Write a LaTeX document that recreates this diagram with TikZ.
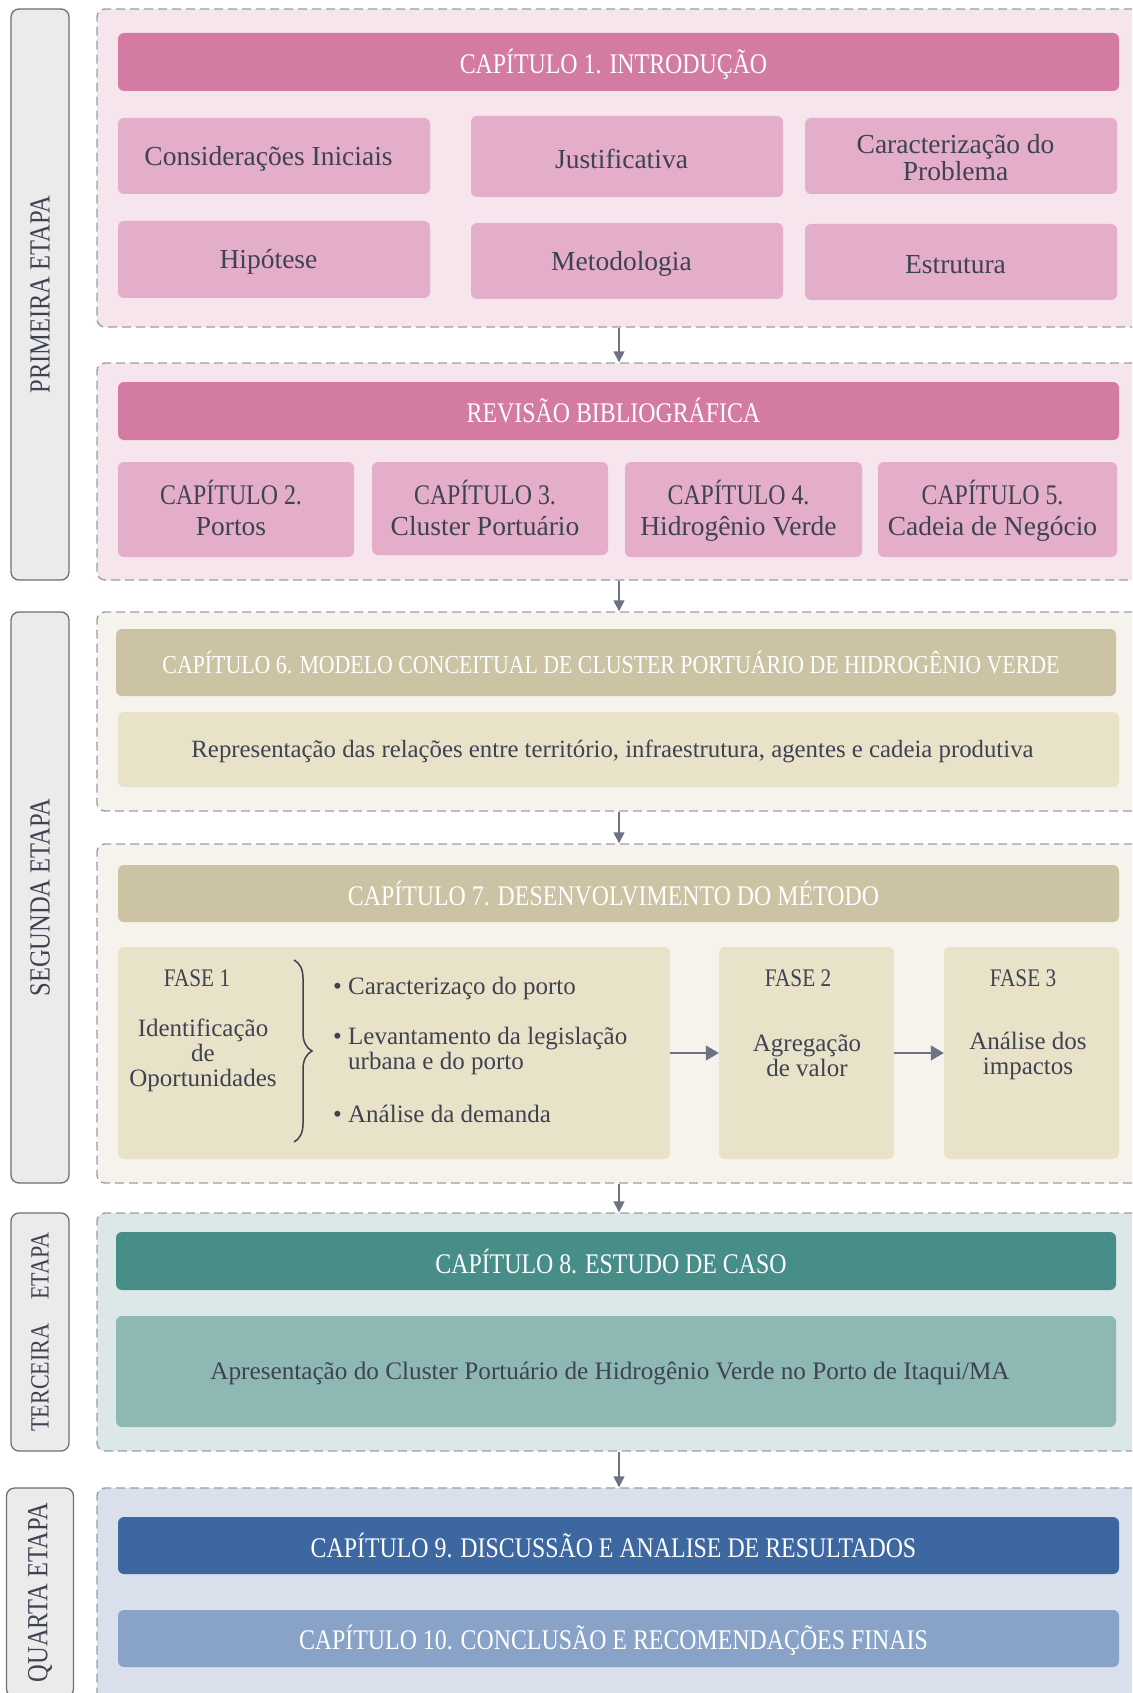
\documentclass[tikz,border=0pt]{standalone}
\usepackage{fontspec}
\setmainfont{Liberation Serif}
\newfontfamily\capsfont{Liberation Serif}[FakeStretch=0.84]
\usetikzlibrary{arrows.meta,decorations.pathreplacing}

\definecolor{txt}{HTML}{3F4250}
\definecolor{dashc}{HTML}{9B9EA6}
\definecolor{arrc}{HTML}{6E7383}
\definecolor{stagef}{HTML}{EBEBEB}
\definecolor{stagec}{HTML}{6F6F6F}
\definecolor{pinkbg}{HTML}{F6E5ED}
\definecolor{pinkh}{HTML}{D47BA4}
\definecolor{pinkc}{HTML}{E4ADC9}
\definecolor{beigebg}{HTML}{F6F3EC}
\definecolor{beigeh}{HTML}{CBC3A4}
\definecolor{beigec}{HTML}{E8E2C9}
\definecolor{tealbg}{HTML}{DCE8E7}
\definecolor{tealh}{HTML}{478D88}
\definecolor{tealc}{HTML}{8EB8B4}
\definecolor{bluebg}{HTML}{D9E0EB}
\definecolor{blueh}{HTML}{3D67A1}
\definecolor{bluec}{HTML}{89A2C8}

\newcommand\fs[2]{\fontsize{#1}{#2}\selectfont}

\begin{document}
\begin{tikzpicture}[x=1pt,y=-1pt,
  panel/.style={draw=dashc, line width=1.4pt, dash pattern=on 9pt off 5pt,
    rounded corners=8pt, inner sep=0pt, minimum width=1044pt},
  stagebox/.style={draw=stagec, fill=stagef, line width=1.3pt, rounded corners=8pt,
    rotate=90, inner sep=0pt, text=txt, font=\capsfont\fs{29.2}{30}},
  box/.style={rounded corners=6pt, inner sep=0pt},
  hdrtext/.style={inner sep=0pt, text=white, font=\capsfont\fs{28.4}{30}},
  celltext/.style={inner sep=0pt, text=txt, align=center, font=\fs{27.5}{27}},
  small/.style={text=txt, inner sep=0pt, font=\fs{25}{25}},
  conn/.style={draw=arrc, line width=1.5pt, -{Triangle[length=11pt,width=11pt]}},
  flow/.style={draw=arrc, line width=1.1pt, -{Triangle[length=13pt,width=15pt]}},
  curly/.style={draw=txt, line width=1.5pt, decorate, decoration={brace, amplitude=18pt}}]

\clip (0,0) rectangle (1132,1693);
\fill[white] (0,0) rectangle (1132,1693);

% stage panels
\node[panel, fill=pinkbg, minimum height=318pt] (c1) at (619,168) {};
\node[panel, fill=pinkbg, minimum height=217pt] (c2) at (619,471.5) {};
\node[panel, fill=beigebg, minimum height=199pt] (c3) at (619,711.5) {};
\node[panel, fill=beigebg, minimum height=339pt] (c4) at (619,1013.5) {};
\node[panel, fill=tealbg, minimum height=238pt] (c5) at (619,1332) {};
\node[panel, fill=bluebg, minimum height=222pt] (c6) at (619,1599) {};

% stage labels
\node[stagebox, minimum width=571pt, minimum height=58pt] (s1) at (40,294.5) {PRIMEIRA ETAPA};
\node[stagebox, minimum width=571pt, minimum height=58pt] (s2) at (40,897.5) {SEGUNDA ETAPA};
\node[stagebox, minimum width=238pt, minimum height=58pt, font=\capsfont\fs{26.3}{27}] (s3) at (40,1332) {TERCEIRA\hspace{24pt}ETAPA};
\node[stagebox, minimum width=209pt, minimum height=67pt] (s4) at (40,1592.5) {QUARTA ETAPA};

% chapter 1
\node[box, fill=pinkh, minimum width=1001pt, minimum height=58pt] (h1) at (618.5,62) {};
\node[hdrtext] (h1t) at ([shift={(-5,2)}]h1.center) {CAPÍTULO 1. INTRODUÇÃO};
\node[box, fill=pinkc, minimum width=312pt, minimum height=76pt] (i1) at (274,156) {};
\node[box, fill=pinkc, minimum width=312pt, minimum height=81pt] (i2) at (627,156.5) {};
\node[box, fill=pinkc, minimum width=312pt, minimum height=76pt] (i3) at (961,156) {};
\node[box, fill=pinkc, minimum width=312pt, minimum height=77pt] (i4) at (274,259.5) {};
\node[box, fill=pinkc, minimum width=312pt, minimum height=76pt] (i5) at (627,261) {};
\node[box, fill=pinkc, minimum width=312pt, minimum height=76pt] (i6) at (961,262) {};
\node[celltext] (i1t) at ([shift={(-5.5,2.5)}]i1.center) {Considerações Iniciais};
\node[celltext] (i2t) at ([shift={(-5.5,2)}]i2.center) {Justificativa};
\node[celltext] (i3t) at ([shift={(-5.5,2)}]i3.center) {Caracterização do\\Problema};
\node[celltext] (i4t) at ([shift={(-5.5,2.5)}]i4.center) {Hipótese};
\node[celltext] (i5t) at ([shift={(-5.5,2.5)}]i5.center) {Metodologia};
\node[celltext] (i6t) at ([shift={(-5.5,2.5)}]i6.center) {Estrutura};

% literature review
\node[box, fill=pinkh, minimum width=1001pt, minimum height=58pt] (h2) at (618.5,411) {};
\node[hdrtext] (h2t) at ([shift={(-5,0)}]h2.center) {REVISÃO BIBLIOGRÁFICA};
\node[box, fill=pinkc, minimum width=236pt, minimum height=95pt] (k2) at (236,509.5) {};
\node[box, fill=pinkc, minimum width=236pt, minimum height=93pt] (k3) at (490,508.5) {};
\node[box, fill=pinkc, minimum width=237pt, minimum height=95pt] (k4) at (743.5,509.5) {};
\node[box, fill=pinkc, minimum width=239pt, minimum height=95pt] (k5) at (997.5,509.5) {};
\node[celltext, font=\fs{27.5}{31}] (k2t) at ([shift={(-5,-2)}]k2.center) {{\capsfont\fs{28.4}{31}CAPÍTULO 2.}\\Portos};
\node[celltext, font=\fs{27.5}{31}] (k3t) at ([shift={(-5,-1)}]k3.center) {{\capsfont\fs{28.4}{31}CAPÍTULO 3.}\\Cluster Portuário};
\node[celltext, font=\fs{27.5}{31}] (k4t) at ([shift={(-5,1.5)}]k4.center) {{\capsfont\fs{28.4}{31}CAPÍTULO 4.}\\Hidrogênio Verde};
\node[celltext, font=\fs{27.5}{31}] (k5t) at ([shift={(-5,1.5)}]k5.center) {{\capsfont\fs{28.4}{31}CAPÍTULO 5.}\\Cadeia de Negócio};

% chapter 6
\node[box, fill=beigeh, minimum width=1000pt, minimum height=67pt] (h3) at (616,662.5) {};
\node[hdrtext, font=\capsfont\fs{26}{28}] (h3t) at ([shift={(-5,0)}]h3.center) {CAPÍTULO 6. MODELO CONCEITUAL DE CLUSTER PORTUÁRIO DE HIDROGÊNIO VERDE};
\node[box, fill=beigec, minimum width=1001pt, minimum height=75pt] (r3) at (618.5,749.5) {};
\node[celltext, font=\fs{24.8}{27}] (r3t) at ([shift={(-6,2)}]r3.center) {Representação das relações entre território, infraestrutura, agentes e cadeia produtiva};

% chapter 7
\node[box, fill=beigeh, minimum width=1001pt, minimum height=57pt] (h4) at (618.5,893.5) {};
\node[hdrtext] (h4t) at ([shift={(-5,0)}]h4.center) {CAPÍTULO 7. DESENVOLVIMENTO DO MÉTODO};
\node[box, fill=beigec, minimum width=552pt, minimum height=212pt] (f1) at (394,1053) {};
\node[box, fill=beigec, minimum width=175pt, minimum height=212pt] (f2) at (806.5,1053) {};
\node[box, fill=beigec, minimum width=175pt, minimum height=212pt] (f3) at (1031.5,1053) {};

\node[small, font=\capsfont\fs{25.3}{25}] (f1a) at (197,978) {FASE 1};
\node[small, align=center] (f1b) at (203,1055) {Identificação\\de\\Oportunidades};
\coordinate (bt) at (294,960);
\coordinate (bb) at (294,1142);
\draw[curly] (bt) -- (bb);
\node[small, anchor=west] (p1) at (348,988) {\llap{•\ }Caracterizaço do porto};
\node[small, anchor=west, align=left] (p2) at (348,1051) {\llap{•\ }Levantamento da legislação\\urbana e do porto};
\node[small, anchor=west] (p3) at (348,1114) {\llap{•\ }Análise da demanda};

\node[small, font=\capsfont\fs{25.3}{25}] (f2a) at (798,978) {FASE 2};
\node[small, align=center] (f2b) at (807,1055.5) {Agregação\\de valor};
\node[small, font=\capsfont\fs{25.3}{25}] (f3a) at (1023,978) {FASE 3};
\node[small, align=center] (f3b) at (1028,1055.5) {Análise dos\\impactos};

\draw[flow] (f1.east) -- (f2.west);
\draw[flow] (f2.east) -- (f3.west);

% chapter 8
\node[box, fill=tealh, minimum width=1000pt, minimum height=58pt] (h5) at (616,1261) {};
\node[hdrtext] (h5t) at ([shift={(-5,0)}]h5.center) {CAPÍTULO 8. ESTUDO DE CASO};
\node[box, fill=tealc, minimum width=1000pt, minimum height=111pt] (r5) at (616,1371.5) {};
\node[celltext, font=\fs{25.2}{27}] (r5t) at ([shift={(-6,2)}]r5.center) {Apresentação do Cluster Portuário de Hidrogênio Verde no Porto de Itaqui/MA};

% chapters 9 and 10
\node[box, fill=blueh, minimum width=1001pt, minimum height=57pt] (h6) at (618.5,1545.5) {};
\node[hdrtext] (h6t) at ([shift={(-5,0)}]h6.center) {CAPÍTULO 9. DISCUSSÃO E ANALISE DE RESULTADOS};
\node[box, fill=bluec, minimum width=1001pt, minimum height=57pt] (r6) at (618.5,1638.5) {};
\node[hdrtext] (r6t) at ([shift={(-5,2)}]r6.center) {CAPÍTULO 10. CONCLUSÃO E RECOMENDAÇÕES FINAIS};

% links between stages
\draw[conn] (c1.south) -- (c2.north);
\draw[conn] (c2.south) -- (c3.north);
\draw[conn] (c3.south) -- (c4.north);
\draw[conn] (c4.south) -- (c5.north);
\draw[conn] (c5.south) -- (c6.north);
\end{tikzpicture}
\end{document}
